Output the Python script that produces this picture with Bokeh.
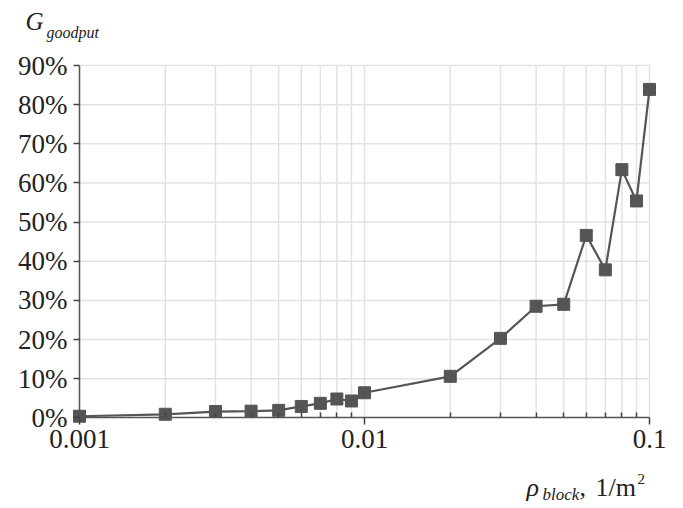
import math
from bokeh.plotting import figure
from bokeh.models import (Range1d, FixedTicker, CustomJSTickFormatter, Label,
                          ColumnDataSource, LogAxis, LinearAxis)
from bokeh.embed import file_html
from bokeh.resources import INLINE

# ---- data ----
rho_block = [0.001, 0.002, 0.003, 0.004, 0.005, 0.006, 0.007, 0.008, 0.009,
             0.01, 0.02, 0.03, 0.04, 0.05, 0.06, 0.07, 0.08, 0.09, 0.1]
goodput = [0.4, 0.9, 1.6, 1.7, 1.9, 2.9, 3.7, 4.8, 4.3,
           6.4, 10.6, 20.3, 28.5, 29.0, 46.6, 37.8, 63.4, 55.4, 83.9]

x_major = [0.001, 0.01, 0.1]
x_minor = [0.002, 0.003, 0.004, 0.005, 0.006, 0.007, 0.008, 0.009,
           0.02, 0.03, 0.04, 0.05, 0.06, 0.07, 0.08, 0.09]
y_ticks = [0, 10, 20, 30, 40, 50, 60, 70, 80, 90]

FONT = "Liberation Serif"
W, H = 680, 506
# placement of the data area inside the canvas (px)
X_LEFT, PX_DEC = 79.0, 285.0      # x = 0.001 at X_LEFT, px per decade
Y_ZERO, PX_PCT = 417.3, 3.914     # y = 0 % at Y_ZERO, px per percent

xmin, xmax = min(x_major), max(x_major)
ymin, ymax = min(y_ticks), max(y_ticks)
x_start = 10 ** (math.log10(xmin) - X_LEFT / PX_DEC)
x_end = 10 ** (math.log10(xmin) + (W - X_LEFT) / PX_DEC)
y_start = ymin - (H - Y_ZERO) / PX_PCT
y_end = ymin + Y_ZERO / PX_PCT

p = figure(width=W, height=H, x_axis_type="log", output_backend="svg",
           toolbar_location=None, x_range=Range1d(x_start, x_end),
           y_range=Range1d(y_start, y_end),
           x_axis_location=None, y_axis_location=None,
           min_border=0)
p.outline_line_color = None
p.grid.visible = False
p.background_fill_color = "white"
p.border_fill_color = "white"

# grid lines (from the tick lists)
gx = x_major + x_minor
p.segment(x0=gx, y0=[ymin] * len(gx), x1=gx, y1=[ymax] * len(gx),
          line_color="#e2e2e2", line_width=1.5)
gy = y_ticks[1:]
p.segment(x0=[xmin] * len(gy), y0=gy, x1=[xmax] * len(gy), y1=gy,
          line_color="#e2e2e2", line_width=1.5)

# axes
xa = LogAxis()
xa.ticker = FixedTicker(ticks=x_major, minor_ticks=x_minor)
xa.formatter = CustomJSTickFormatter(code="return tick.toString();")
xa.fixed_location = ymin
xa.bounds = (xmin, xmax)
xa.axis_line_color = "#555555"
xa.axis_line_width = 1.5
xa.major_tick_line_color = "#444444"
xa.major_tick_line_width = 1.5
xa.major_tick_in = 0
xa.major_tick_out = 7
xa.minor_tick_line_color = "#444444"
xa.minor_tick_line_width = 1.5
xa.minor_tick_in = 5
xa.minor_tick_out = 0
xa.major_label_text_font = FONT
xa.major_label_text_font_size = "27px"
xa.major_label_text_color = "#222222"
xa.major_label_standoff = 5
p.add_layout(xa, "below")

ya = LinearAxis()
ya.ticker = FixedTicker(ticks=y_ticks, minor_ticks=[])
ya.formatter = CustomJSTickFormatter(code="return tick.toFixed(0) + '%';")
ya.fixed_location = xmin
ya.bounds = (ymin, ymax)
ya.axis_line_color = "#555555"
ya.axis_line_width = 1.5
ya.major_tick_line_color = "#444444"
ya.major_tick_line_width = 1.5
ya.major_tick_in = 0
ya.major_tick_out = 6
ya.minor_tick_line_color = None
ya.major_label_text_font = FONT
ya.major_label_text_font_size = "27px"
ya.major_label_text_color = "#222222"
ya.major_label_standoff = 6
p.add_layout(ya, "left")

src = ColumnDataSource(dict(x=rho_block, y=goodput))
p.line("x", "y", source=src, line_color="#555555", line_width=2.2)
p.scatter("x", "y", source=src, marker="square", size=12,
          fill_color="#555555", line_color="#555555")

BASE_SHIFT = 7  # rendered baseline sits lower than requested


def add_label(text, px, py, size, italic=True):
    # px, py: canvas pixels from the top-left corner, py = text baseline
    p.add_layout(Label(x=px, y=H - (py - BASE_SHIFT), x_units="screen",
                       y_units="screen", text=text, text_font=FONT,
                       text_font_size=size,
                       text_font_style="italic" if italic else "normal",
                       text_color="#222222", text_baseline="alphabetic",
                       text_align="left"))


# title: G_goodput
add_label("G", 25, 28, "25px")
add_label("goodput", 46, 39, "16px")
# x label: rho_block, 1/m^2
add_label("ρ", 526, 494, "26px")
add_label("block", 542, 501, "17px")
add_label(",", 579, 494, "26px", italic=False)
add_label("1/m", 595, 494, "26px", italic=False)
add_label("2", 637, 485, "15px", italic=False)

open("out.html", "w").write(file_html(p, INLINE))
